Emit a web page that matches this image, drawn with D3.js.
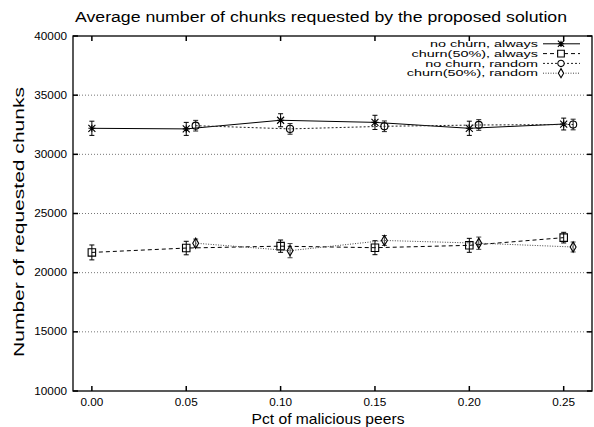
<!DOCTYPE html>
<html>
<head>
<meta charset="utf-8">
<script src="https://cdn.jsdelivr.net/npm/d3@7"></script>
<style>
  body { margin: 0; background: #fff; }
  svg { display: block; }
  text { font-family: "Liberation Sans", Arial, sans-serif; fill: #000; }
</style>
</head>
<body>
<div id="canvas"></div>
<script>
"use strict"

/* Data */
let pct = [0.00, 0.05, 0.10, 0.15, 0.20, 0.25];
let pctRandom = [0.055, 0.105, 0.155, 0.205, 0.255];

let noChurnAlways = [32200, 32150, 32880, 32700, 32200, 32560];
let noChurnAlwaysErr = [600, 550, 550, 600, 600, 500];
let churnAlways = [21710, 22080, 22240, 22110, 22310, 22960];
let churnAlwaysErr = [630, 570, 520, 590, 590, 450];
let noChurnRandom = [32420, 32150, 32370, 32480, 32520];
let noChurnRandomErr = [450, 450, 450, 450, 450];
let churnRandom = [22490, 21860, 22720, 22490, 22170];
let churnRandomErr = [350, 600, 420, 520, 420];

let yTicks = [10000, 15000, 20000, 25000, 30000, 35000, 40000];
let xTicks = [0.00, 0.05, 0.10, 0.15, 0.20, 0.25];
let legendLabels = ["no churn, always", "churn(50%), always", "no churn, random", "churn(50%), random"];

/* Configuration variables: drawing */
let svgWidth = 594;
let svgHeight = 427;
let plotLeft = 73, plotRight = 592, plotTop = 36, plotBottom = 391;

let svg = d3.select("#canvas")
    .append("svg")
    .attr("width", svgWidth)
    .attr("height", svgHeight);

let xScale = d3.scaleLinear().domain([-0.01, 0.265]).range([plotLeft, plotRight]);
let yScale = d3.scaleLinear().domain([10000, 40000]).range([plotBottom, plotTop]);

/* grid lines */
svg.selectAll(".grid")
    .data(yTicks.slice(1, -1))
    .join("line")
    .attr("x1", plotLeft).attr("x2", plotRight)
    .attr("y1", d => yScale(d)).attr("y2", d => yScale(d))
    .attr("stroke", "#777")
    .attr("stroke-width", 1)
    .attr("stroke-dasharray", "1,2");

/* tick marks, mirrored on all four sides */
let tickLen = 5;
yTicks.forEach(function (t) {
    svg.append("line").attr("x1", plotLeft).attr("x2", plotLeft + tickLen)
        .attr("y1", yScale(t)).attr("y2", yScale(t)).attr("stroke", "black").attr("stroke-width", 1.5);
    svg.append("line").attr("x1", plotRight - tickLen).attr("x2", plotRight)
        .attr("y1", yScale(t)).attr("y2", yScale(t)).attr("stroke", "black").attr("stroke-width", 1.5);
});
xTicks.forEach(function (t) {
    svg.append("line").attr("x1", xScale(t)).attr("x2", xScale(t))
        .attr("y1", plotBottom).attr("y2", plotBottom - tickLen).attr("stroke", "black").attr("stroke-width", 1.5);
    svg.append("line").attr("x1", xScale(t)).attr("x2", xScale(t))
        .attr("y1", plotTop).attr("y2", plotTop + tickLen).attr("stroke", "black").attr("stroke-width", 1.5);
});

/* frame */
svg.append("rect")
    .attr("x", plotLeft).attr("y", plotTop)
    .attr("width", plotRight - plotLeft).attr("height", plotBottom - plotTop)
    .attr("fill", "none")
    .attr("stroke", "black")
    .attr("stroke-width", 1.3);

/* tick labels */
svg.selectAll(".ylab")
    .data(yTicks)
    .join("text")
    .attr("x", 67)
    .attr("y", d => yScale(d) + 3.5)
    .attr("text-anchor", "end")
    .attr("font-size", 10.5)
    .attr("class", "stretch")
    .text(d => String(d));

svg.selectAll(".xlab")
    .data(xTicks)
    .join("text")
    .attr("x", d => xScale(d))
    .attr("y", 406)
    .attr("text-anchor", "middle")
    .attr("font-size", 10.5)
    .attr("class", "stretch")
    .text(d => d.toFixed(2));

/* titles */
svg.append("text")
    .attr("x", 321).attr("y", 22)
    .attr("text-anchor", "middle")
    .attr("font-size", 14)
    .attr("textLength", 492)
    .attr("lengthAdjust", "spacingAndGlyphs")
    .text("Average number of chunks requested by the proposed solution");

svg.append("text")
    .attr("x", 328).attr("y", 424)
    .attr("text-anchor", "middle")
    .attr("font-size", 15)
    .attr("textLength", 153)
    .attr("lengthAdjust", "spacingAndGlyphs")
    .text("Pct of malicious peers");

svg.append("text")
    .attr("transform", "translate(24,222) rotate(-90)")
    .attr("text-anchor", "middle")
    .attr("font-size", 14.5)
    .attr("textLength", 270)
    .attr("lengthAdjust", "spacingAndGlyphs")
    .text("Number of requested chunks");

/* markers */
let asterisk = {
    draw: function (ctx, size) {
        let r = Math.sqrt(size) / 2;
        ctx.moveTo(-r, 0); ctx.lineTo(r, 0);
        ctx.moveTo(0, -r); ctx.lineTo(0, r);
        ctx.moveTo(-r, -r); ctx.lineTo(r, r);
        ctx.moveTo(-r, r); ctx.lineTo(r, -r);
    }
};

let series = [
    { label: legendLabels[0], xs: pct, ys: noChurnAlways, err: noChurnAlwaysErr, dash: null, color: "#000", sym: asterisk, size: 49 },
    { label: legendLabels[1], xs: pct, ys: churnAlways, err: churnAlwaysErr, dash: "4,3", color: "#000", sym: d3.symbolSquare, size: 56 },
    { label: legendLabels[2], xs: pctRandom, ys: noChurnRandom, err: noChurnRandomErr, dash: "2,2", color: "#222", sym: d3.symbolCircle, size: 40 },
    { label: legendLabels[3], xs: pctRandom, ys: churnRandom, err: churnRandomErr, dash: "1,1.5", color: "#444", sym: d3.symbolDiamond, size: 30 }
];

let line = d3.line()
    .x(d => xScale(d[0]))
    .y(d => yScale(d[1]));

series.forEach(function (s) {
    let pts = s.xs.map((x, i) => [x, s.ys[i], s.err[i]]);
    let g = svg.append("g");

    g.append("path")
        .attr("d", line(pts))
        .attr("fill", "none")
        .attr("stroke", s.color)
        .attr("stroke-width", 1)
        .attr("stroke-dasharray", s.dash);

    // error bars
    pts.forEach(function (p) {
        let cx = xScale(p[0]);
        let y1 = yScale(p[1] - p[2]), y2 = yScale(p[1] + p[2]);
        g.append("line").attr("x1", cx).attr("x2", cx).attr("y1", y1).attr("y2", y2)
            .attr("stroke", s.color).attr("stroke-width", 1);
        [y1, y2].forEach(function (yy) {
            g.append("line").attr("x1", cx - 2.5).attr("x2", cx + 2.5).attr("y1", yy).attr("y2", yy)
                .attr("stroke", s.color).attr("stroke-width", 1);
        });
    });

    g.selectAll(".pt")
        .data(pts)
        .join("path")
        .attr("transform", d => "translate(" + xScale(d[0]) + "," + yScale(d[1]) + ")")
        .attr("d", d3.symbol().type(s.sym).size(s.size))
        .attr("fill", "none")
        .attr("stroke", "#000")
        .attr("stroke-width", 1.1);
});

/* key */
series.forEach(function (s, i) {
    let by = 47 + i * 9.8;
    svg.append("text")
        .attr("x", 538).attr("y", by)
        .attr("text-anchor", "end")
        .attr("font-size", 9)
        .attr("class", "legend")
        .text(s.label);
    svg.append("line")
        .attr("x1", 543).attr("x2", 580)
        .attr("y1", by - 3.2).attr("y2", by - 3.2)
        .attr("stroke", s.color)
        .attr("stroke-width", 1)
        .attr("stroke-dasharray", s.dash);
    svg.append("path")
        .attr("transform", "translate(561," + (by - 3.2) + ")")
        .attr("d", d3.symbol().type(s.sym).size(s.size * 0.8))
        .attr("fill", "white")
        .attr("stroke", "#000")
        .attr("stroke-width", 1.1);
});

/* the original is stretched sideways: widen tick and key text to match */
svg.selectAll("text.stretch").each(function () {
    let w = this.getComputedTextLength();
    d3.select(this).attr("textLength", w * 1.12).attr("lengthAdjust", "spacingAndGlyphs");
});
let keyNode = svg.select("text.legend").node();
let keyFactor = 108 / keyNode.getComputedTextLength();
svg.selectAll("text.legend").each(function () {
    let w = this.getComputedTextLength();
    d3.select(this).attr("textLength", w * keyFactor).attr("lengthAdjust", "spacingAndGlyphs");
});
</script>
</body>
</html>
